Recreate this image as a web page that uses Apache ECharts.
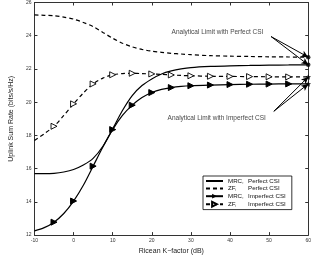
<!DOCTYPE html>
<html><head><meta charset="utf-8">
<script src="https://cdn.jsdelivr.net/npm/echarts@6/dist/echarts.min.js"></script>
<style>html,body{margin:0;padding:0;background:#fff}#c{width:314px;height:260px}</style>
</head><body><div id="c"></div>
<script>
// ---- data ----
const kFactor = [-10,-7.5,-5,-2.5,0,2.5,5,7.5,10,12.5,15,17.5,20,22.5,25,27.5,30,35,40,45,50,55,60];
const mrcPerfect   = [15.7,15.7,15.72,15.8,15.95,16.22,16.62,17.35,18.4,19.5,20.4,21.0,21.4,21.7,21.88,22.0,22.08,22.15,22.19,22.21,22.23,22.24,22.25];
const zfPerfect    = [25.25,25.23,25.2,25.12,25.0,24.8,24.55,24.2,23.85,23.55,23.33,23.18,23.07,23.0,22.94,22.9,22.86,22.8,22.77,22.75,22.73,22.72,22.71];
const mrcImperfect = [12.25,12.45,12.78,13.3,14.05,15.0,16.15,17.3,18.35,19.2,19.82,20.28,20.58,20.77,20.88,20.95,20.99,21.03,21.06,21.08,21.09,21.1,21.1];
const zfImperfect  = [17.7,18.1,18.55,19.2,19.9,20.55,21.1,21.45,21.65,21.72,21.74,21.72,21.7,21.67,21.64,21.61,21.59,21.56,21.55,21.54,21.53,21.52,21.52];
const markerK = [-5,0,5,10,15,20,25,30,35,40,45,50,55];
const limitPerfect = [[60,22.71],[60,22.25]];
const limitImperfect = [[60,21.52],[60,21.1]];
const notePerfect = {text:'Analytical Limit with Perfect CSI', at:[36.8,24.2], from:[50.5,23.95]};
const noteImperfect = {text:'Analytical Limit with Imperfect CSI', at:[36.6,19.05], from:[51.2,19.45]};
const xTicks = {min:-10,max:60,step:10};
const yTicks = {min:12,max:26,step:2};

const FONT = 'Liberation Sans, Arial, sans-serif';
const chart = echarts.init(document.getElementById('c'), null, {renderer:'canvas'});

function build(vals, withMarkers){
  return kFactor.map((k,i)=> (withMarkers && markerK.includes(k)) ? [k,vals[i]] : {value:[k,vals[i]], symbol:'none'});
}
const star = 'path://M0,-10 L2.9,-4 9.5,-3.1 4.7,1.5 5.9,8.1 0,5 -5.9,8.1 -4.7,1.5 -9.5,-3.1 -2.9,-4 Z';

const axisLine = {show:true, onZero:false, lineStyle:{color:'#333', width:1}};
const tickIn = {show:true, inside:true, length:3, lineStyle:{color:'#333'}};
const lbl = {fontSize:5, color:'#333', fontFamily:FONT};
const hidden = {color:'rgba(0,0,0,0)', borderColor:'rgba(0,0,0,0)', borderWidth:0};

function arrowLines(note, targets){
  return targets.map(t=>[{coord:note.from},{coord:t}]);
}

chart.setOption({
  animation:false,
  backgroundColor:'#fff',
  grid:{left:17, right:4, top:2, bottom:20, containLabel:false},
  xAxis:[
    {type:'value', min:xTicks.min, max:xTicks.max, interval:xTicks.step, axisLine, axisTick:tickIn,
     axisLabel:Object.assign({margin:3},lbl), splitLine:{show:false},
     name:'Ricean K\u2212factor (dB)', nameLocation:'middle', nameGap:12,
     nameTextStyle:{fontSize:7, color:'#222', fontFamily:FONT}},
    {type:'value', position:'top', min:xTicks.min, max:xTicks.max, interval:xTicks.step, axisLine, axisTick:tickIn,
     axisLabel:{show:false}, splitLine:{show:false}}
  ],
  yAxis:[
    {type:'value', min:yTicks.min, max:yTicks.max, interval:yTicks.step, axisLine, axisTick:tickIn,
     axisLabel:Object.assign({margin:3},lbl), splitLine:{show:false},
     name:'Uplink Sum Rate (bits/s/Hz)', nameLocation:'middle', nameGap:10,
     nameTextStyle:{fontSize:7, color:'#222', fontFamily:FONT}},
    {type:'value', position:'right', min:yTicks.min, max:yTicks.max, interval:yTicks.step, axisLine, axisTick:tickIn,
     axisLabel:{show:false}, splitLine:{show:false}}
  ],
  legend:{
    left:203, top:176, orient:'vertical', itemGap:1.6, itemWidth:17, itemHeight:6,
    padding:[2,6,2,2], borderColor:'#000', borderWidth:0.8, backgroundColor:'#fff',
    textStyle:{fontSize:6.2, color:'#111', fontFamily:FONT, rich:{a:{width:20, fontSize:6.2, fontFamily:FONT, color:'#111'}, b:{fontSize:6.2, fontFamily:FONT, color:'#111'}}},
    formatter:(n)=>{const p=n.split(', '); return '{a|'+p[0]+',}{b|'+p[1]+'}';},
    data:[{name:'MRC, Perfect CSI', itemStyle:hidden},{name:'ZF, Perfect CSI', itemStyle:hidden},'MRC, Imperfect CSI','ZF, Imperfect CSI']
  },
  series:[
    {name:'MRC, Perfect CSI', type:'line', smooth:0.3, symbol:'none', data:build(mrcPerfect,false),
     lineStyle:{color:'#000', width:1.2}, itemStyle:{color:'#000'}},
    {name:'ZF, Perfect CSI', type:'line', smooth:0.3, symbol:'none', data:build(zfPerfect,false),
     lineStyle:{color:'#000', width:1.2, type:[4,3]}, itemStyle:{color:'#000'}},
    {name:'MRC, Imperfect CSI', type:'line', smooth:0.3, symbol:'triangle', symbolRotate:-90, symbolSize:6, showAllSymbol:true,
     data:build(mrcImperfect,true), lineStyle:{color:'#000', width:1.2}, itemStyle:{color:'#000', borderColor:'#000'}},
    {name:'ZF, Imperfect CSI', type:'line', smooth:0.3, symbol:'triangle', symbolRotate:-90, symbolSize:6, showAllSymbol:true,
     data:build(zfImperfect,true), lineStyle:{color:'#000', width:1.2, type:[4,3]}, itemStyle:{color:'#fff', borderColor:'#000', borderWidth:0.9}},
    {name:'limP', type:'scatter', symbol:'circle', symbolSize:4.5, data:limitPerfect, itemStyle:{color:'#000'}, z:5,
     markLine:{silent:true, symbol:['none','arrow'], symbolSize:[5,7], lineStyle:{color:'#000', width:1, type:'solid'}, label:{show:false},
       data:arrowLines(notePerfect, limitPerfect)}},
    {name:'limI', type:'scatter', symbol:star, symbolSize:5.5, data:limitImperfect, itemStyle:{color:'#000'}, z:5,
     markLine:{silent:true, symbol:['none','arrow'], symbolSize:[5,7], lineStyle:{color:'#000', width:1, type:'solid'}, label:{show:false},
       data:arrowLines(noteImperfect, limitImperfect)}},
    {name:'notes', type:'scatter', symbolSize:0, silent:true,
     data:[{value:notePerfect.at, name:notePerfect.text},{value:noteImperfect.at, name:noteImperfect.text}],
     label:{show:true, position:'inside', formatter:(p)=>p.name, fontSize:6.5, color:'#111', fontFamily:FONT}}
  ]
});
</script></body></html>
